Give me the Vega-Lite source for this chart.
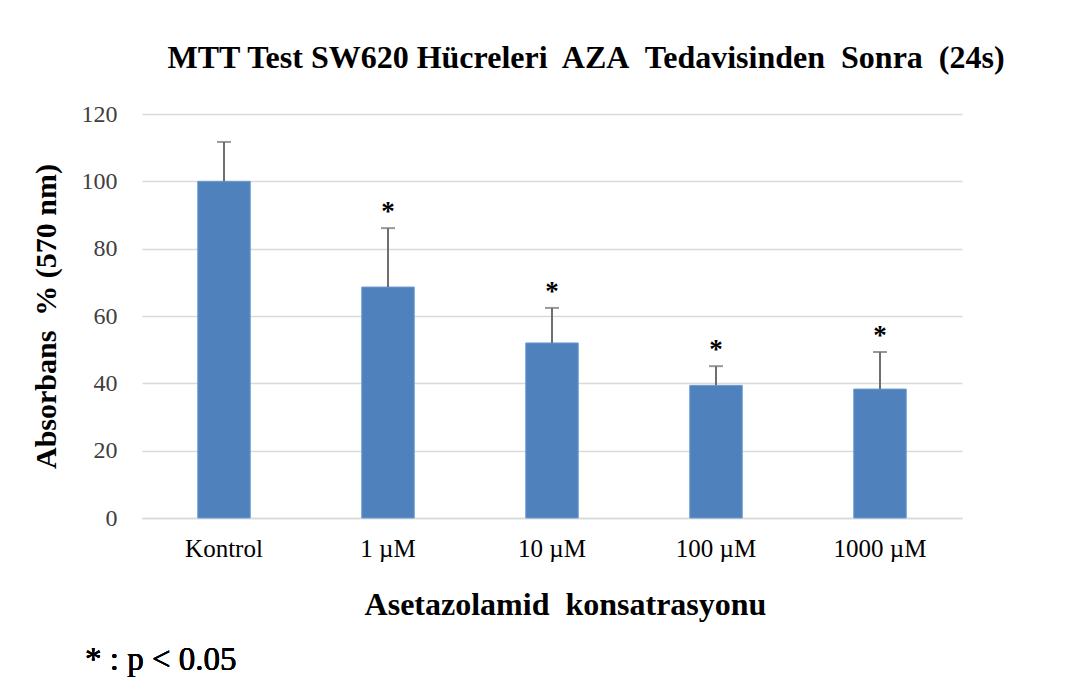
{
  "$schema": "https://vega.github.io/schema/vega-lite/v6.json",
  "width": 820,
  "height": 404,
  "autosize": {"type": "none"},
  "padding": {"left": 142, "top": 114, "right": 114, "bottom": 159},
  "background": "white",
  "title": {
    "text": "MTT Test SW620 Hücreleri\u00a0 AZA\u00a0 Tedavisinden\u00a0 Sonra\u00a0 (24s)",
    "font": "Liberation Serif",
    "fontSize": 32,
    "fontWeight": "bold",
    "color": "#000000",
    "anchor": "middle",
    "frame": "group",
    "dx": 34,
    "offset": 27
  },
  "data": {
    "values": [
      {"group": "Kontrol", "value": 100.0, "errhi": 111.7, "sig": ""},
      {"group": "1 µM", "value": 68.6, "errhi": 86.1, "sig": "*"},
      {"group": "10 µM", "value": 52.0, "errhi": 62.4, "sig": "*"},
      {"group": "100 µM", "value": 39.4, "errhi": 45.1, "sig": "*"},
      {"group": "1000 µM", "value": 38.3, "errhi": 49.3, "sig": "*"}
    ]
  },
  "encoding": {
    "x": {
      "field": "group",
      "type": "nominal",
      "sort": null,
      "scale": {"paddingInner": 0.68, "paddingOuter": 0.34},
      "axis": {
        "title": "Asetazolamid\u00a0 konsatrasyonu",
        "titleFont": "Liberation Serif",
        "titleFontSize": 32,
        "titleFontWeight": "bold",
        "titleColor": "#000000",
        "titlePadding": 28,
        "titleX": 423,
        "labelAngle": 0,
        "labelFont": "Liberation Serif",
        "labelFontSize": 25,
        "labelColor": "#000000",
        "labelPadding": 18,
        "ticks": false,
        "domainColor": "#d9d9d9",
        "domainWidth": 1.5,
        "grid": false
      }
    }
  },
  "layer": [
    {
      "mark": {"type": "bar", "color": "#4f81bd", "stroke": "#6f9bd0", "strokeWidth": 1},
      "encoding": {
        "y": {
          "field": "value",
          "type": "quantitative",
          "scale": {"domain": [0, 120]},
          "axis": {
            "title": "Absorbans\u00a0 % (570 nm)",
            "titleFont": "Liberation Serif",
            "titleFontSize": 30,
            "titleFontWeight": "bold",
            "titleColor": "#000000",
            "titlePadding": 20,
            "values": [0, 20, 40, 60, 80, 100, 120],
            "labelFont": "Liberation Serif",
            "labelFontSize": 24,
            "labelColor": "#404040",
            "labelPadding": 25,
            "ticks": false,
            "domain": false,
            "gridColor": "#d9d9d9",
            "gridWidth": 1.5
          }
        }
      }
    },
    {
      "mark": {"type": "rule", "color": "#6e6e6e", "strokeWidth": 2},
      "encoding": {
        "y": {"field": "value", "type": "quantitative"},
        "y2": {"field": "errhi"}
      }
    },
    {
      "mark": {"type": "tick", "color": "#6e6e6e", "thickness": 2, "size": 14, "orient": "horizontal"},
      "encoding": {
        "y": {"field": "errhi", "type": "quantitative"}
      }
    },
    {
      "mark": {"type": "text", "font": "Liberation Serif", "fontSize": 27, "fontWeight": "bold", "color": "#000000", "baseline": "middle", "dy": -16},
      "encoding": {
        "y": {"field": "errhi", "type": "quantitative"},
        "text": {"field": "sig"}
      }
    },
    {
      "mark": {"type": "text", "font": "Liberation Serif", "fontSize": 33, "fontWeight": "normal", "color": "#000000", "align": "left", "baseline": "middle", "dx": -139},
      "encoding": {
        "x": {"datum": "Kontrol"},
        "y": {"datum": -42.2},
        "text": {"value": "* : p < 0.05"}
      }
    }
  ],
  "config": {
    "view": {"stroke": null}
  }
}
